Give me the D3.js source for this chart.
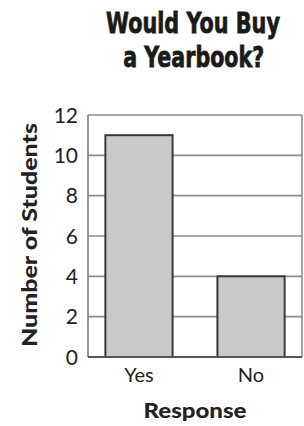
<!DOCTYPE html>
<html><head><meta charset="utf-8">
<script src="https://cdn.jsdelivr.net/npm/d3@7"></script>
<style>body{margin:0;background:#fff}svg{display:block}</style>
</head><body>
<script>
const categories = ["Yes", "No"];
const values = [11, 4];
const yTicks = [0, 2, 4, 6, 8, 10, 12];
const titleLines = ["Would You Buy", "a Yearbook?"];
const xTitle = "Response";
const yTitle = "Number of Students";

const W = 304, H = 426;
const m = {left: 88, right: 2, top: 115, bottom: 69};
const svg = d3.select("body").append("svg").attr("width", W).attr("height", H);

const x = d3.scaleBand().domain(categories).range([m.left, W - m.right]).paddingInner(0.4).paddingOuter(0.155);
const y = d3.scaleLinear().domain([0, 12]).range([H - m.bottom, m.top]);

// gridlines
svg.append("g").selectAll("line").data(yTicks.filter(d => d > 0)).join("line")
  .attr("x1", m.left).attr("x2", W - m.right)
  .attr("y1", d => y(d)).attr("y2", d => y(d))
  .attr("stroke", "#8c8c8c").attr("stroke-width", 1.6);
// right border
svg.append("line").attr("x1", W - m.right).attr("x2", W - m.right)
  .attr("y1", y(12)).attr("y2", y(0)).attr("stroke", "#8c8c8c").attr("stroke-width", 1.6);
// left axis
svg.append("line").attr("x1", m.left).attr("x2", m.left)
  .attr("y1", y(12)).attr("y2", y(0)).attr("stroke", "#7a7a7a").attr("stroke-width", 1.6);

// bars
svg.append("g").selectAll("rect").data(categories).join("rect")
  .attr("x", d => x(d)).attr("width", x.bandwidth())
  .attr("y", (d, i) => y(values[i])).attr("height", (d, i) => y(0) - y(values[i]))
  .attr("fill", "#c8c9cb").attr("stroke", "#3a3a3a").attr("stroke-width", 2);

// baseline
svg.append("line").attr("x1", m.left).attr("x2", W - m.right)
  .attr("y1", y(0)).attr("y2", y(0)).attr("stroke", "#555").attr("stroke-width", 1.8);

// y tick labels
svg.append("g").selectAll("text").data(yTicks).join("text")
  .attr("x", m.left - 10).attr("y", d => y(d)).attr("dy", "0.36em")
  .attr("text-anchor", "end").attr("font-family", "Lato, sans-serif")
  .attr("font-size", 21).attr("fill", "#222").text(d => d);

// x tick labels
svg.append("g").selectAll("text").data(categories).join("text")
  .attr("x", d => x(d) + x.bandwidth() / 2).attr("y", 382)
  .attr("text-anchor", "middle").attr("font-family", "Lato, sans-serif")
  .attr("font-size", 20).attr("fill", "#222").text(d => d);

// x title
svg.append("text").attr("x", (m.left + W - m.right) / 2).attr("y", 418)
  .attr("text-anchor", "middle").attr("font-family", "Lato, sans-serif")
  .attr("font-weight", 900).attr("font-size", 21).attr("fill", "#222")
  .attr("textLength", 103).attr("lengthAdjust", "spacingAndGlyphs").text(xTitle);

// y title
svg.append("text").attr("transform", "translate(36.5,235) rotate(-90)")
  .attr("text-anchor", "middle").attr("font-family", "Lato, sans-serif")
  .attr("font-weight", 900).attr("font-size", 21).attr("fill", "#222")
  .attr("textLength", 224).attr("lengthAdjust", "spacingAndGlyphs").text(yTitle);

// title (horizontally scaled condensed bold)
const tl = [[33, 174, 193], [66.7, 141, 193.7]];
svg.append("g").selectAll("text").data(titleLines).join("text")
  .attr("text-anchor", "middle").attr("font-family", "'DejaVu Sans', sans-serif")
  .attr("font-weight", "bold").attr("font-size", 28).attr("fill", "#1a1a1a")
  .attr("stroke", "#1a1a1a").attr("stroke-width", 0.8)
  .text(d => d)
  .each(function(d, i) {
    const w = this.getComputedTextLength();
    const s = tl[i][1] / w;
    d3.select(this).attr("transform", `translate(${tl[i][2]},${tl[i][0]}) scale(${s},1)`);
  });
</script>
</body></html>
